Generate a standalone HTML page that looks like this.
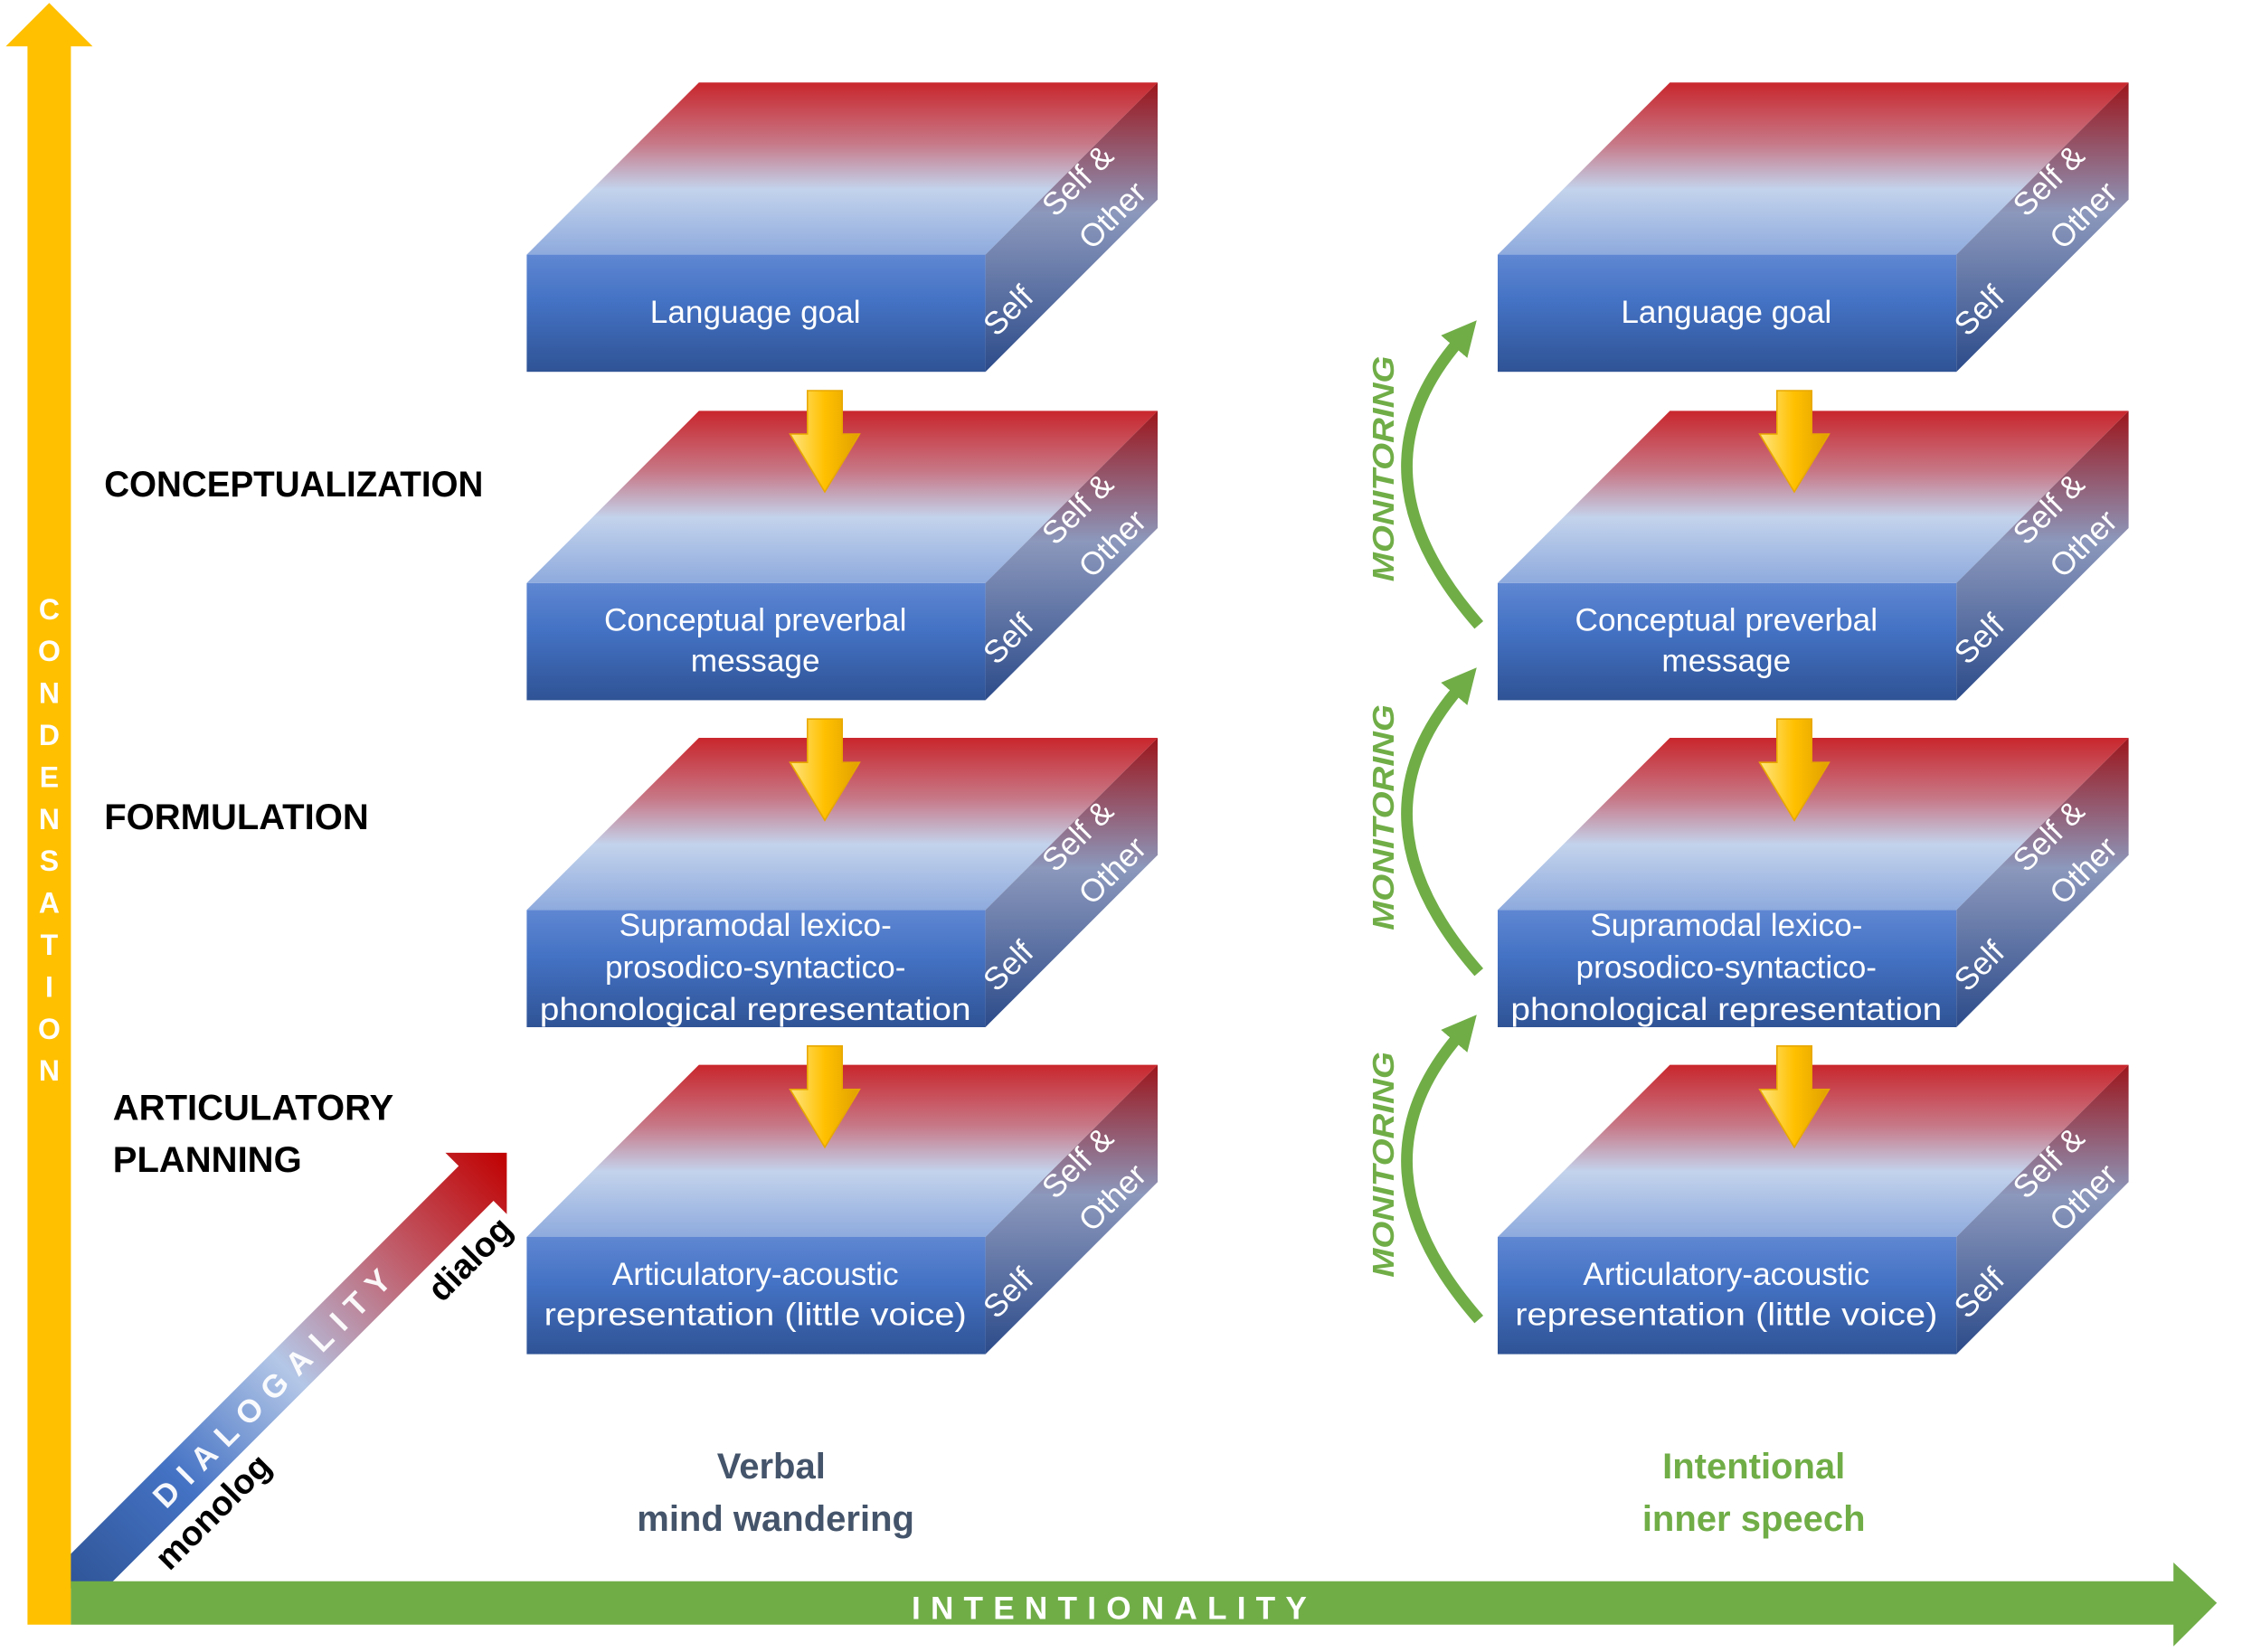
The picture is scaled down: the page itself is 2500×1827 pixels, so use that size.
<!DOCTYPE html>
<html><head><meta charset="utf-8"><style>
html,body{margin:0;padding:0;background:#fff;}
svg{display:block;}
text{font-family:"Liberation Sans",sans-serif;}
</style></head><body>
<svg width="2500" height="1827" viewBox="0 0 1562.5 1141.875" xmlns="http://www.w3.org/2000/svg">
<defs>
<linearGradient id="top" x1="0" y1="0" x2="0" y2="1">
<stop offset="0" stop-color="#c9262c"/><stop offset="0.35" stop-color="#c77786"/><stop offset="0.62" stop-color="#c3d3ec"/><stop offset="1" stop-color="#8eaadd"/>
</linearGradient>
<linearGradient id="front" x1="0" y1="0" x2="0" y2="1">
<stop offset="0" stop-color="#5f87d2"/><stop offset="0.4" stop-color="#4472c4"/><stop offset="1" stop-color="#2f5395"/>
</linearGradient>
<linearGradient id="side" x1="0" y1="0" x2="0" y2="1">
<stop offset="0" stop-color="#9c151b"/><stop offset="0.45" stop-color="#8c98bc"/><stop offset="1" stop-color="#2c4b8a"/>
</linearGradient>
<linearGradient id="dia" x1="0" y1="0" x2="1" y2="0">
<stop offset="0" stop-color="#2f5597"/><stop offset="0.25" stop-color="#4472c4"/><stop offset="0.5" stop-color="#b4c7e7"/><stop offset="0.75" stop-color="#c0606e"/><stop offset="1" stop-color="#c00000"/>
</linearGradient>
<linearGradient id="yarr" x1="0" y1="0" x2="1" y2="0">
<stop offset="0" stop-color="#ffe680"/><stop offset="0.5" stop-color="#ffc000"/><stop offset="1" stop-color="#e0a000"/>
</linearGradient>
<marker id="gh" viewBox="0 0 10 10" refX="2" refY="5" markerWidth="3" markerHeight="3" orient="auto" markerUnits="strokeWidth">
<path d="M0,0 L10,5 L0,10 z" fill="#70ad47"/>
</marker>
<g id="yd"><polygon points="-12,0 12,0 12,30 24,30 0,70 -24,30 -12,30" fill="url(#yarr)" stroke="#e8a800" stroke-width="1"/></g>
<g id="blk">
<polygon points="364,176 483,57 800,57 681,176" fill="url(#top)"/>
<polygon points="681,176 800,57 800,138 681,257" fill="url(#side)"/>
<rect x="364" y="176" width="317" height="81" fill="url(#front)"/>
</g>
</defs>

<use href="#blk"/><use href="#blk" y="227"/><use href="#blk" y="453"/><use href="#blk" y="679"/>
<use href="#blk" x="671"/><use href="#blk" x="671" y="227"/><use href="#blk" x="671" y="453"/><use href="#blk" x="671" y="679"/>

<g fill="#fff" font-size="22">
<g id="sl">
<text transform="translate(702,220) rotate(-45)" text-anchor="middle">Self</text>
<text transform="translate(750,130) rotate(-45)" text-anchor="middle">Self &amp;</text>
<text transform="translate(774,154) rotate(-45)" text-anchor="middle">Other</text>
</g>
<use href="#sl" y="227"/><use href="#sl" y="453"/><use href="#sl" y="679"/>
<use href="#sl" x="671"/><use href="#sl" x="671" y="227"/><use href="#sl" x="671" y="453"/><use href="#sl" x="671" y="679"/>
</g>

<g fill="#fff" font-size="22" text-anchor="middle">
<g id="fl">
<text x="522" y="223">Language goal</text>
<text x="522" y="436">Conceptual preverbal</text>
<text x="522" y="464">message</text>
<text x="522" y="647">Supramodal lexico-</text>
<text x="522" y="676">prosodico-syntactico-</text>
<text x="522" y="705" textLength="298" lengthAdjust="spacingAndGlyphs">phonological representation</text>
<text x="522" y="888">Articulatory-acoustic</text>
<text x="522" y="916" textLength="292" lengthAdjust="spacingAndGlyphs">representation (little voice)</text>
</g>
<use href="#fl" x="671"/>
</g>

<use href="#yd" x="570" y="270"/><use href="#yd" x="570" y="497"/><use href="#yd" x="570" y="723"/>
<use href="#yd" x="1240" y="270"/><use href="#yd" x="1240" y="497"/><use href="#yd" x="1240" y="723"/>

<g fill="none" stroke="#70ad47" stroke-width="8" stroke-linecap="butt">
<path d="M1022,432 Q930,327 1008,236" marker-end="url(#gh)"/>
<path d="M1022,672 Q930,567 1008,476" marker-end="url(#gh)"/>
<path d="M1022,912 Q930,807 1008,716" marker-end="url(#gh)"/>
</g>
<g fill="#70ad47" font-size="21" font-weight="bold" font-style="italic" text-anchor="middle">
<text transform="translate(963,324) rotate(-90)" textLength="156" lengthAdjust="spacingAndGlyphs">MONITORING</text>
<text transform="translate(963,565) rotate(-90)" textLength="156" lengthAdjust="spacingAndGlyphs">MONITORING</text>
<text transform="translate(963,805) rotate(-90)" textLength="156" lengthAdjust="spacingAndGlyphs">MONITORING</text>
</g>

<g transform="translate(49,1098) rotate(-45)">
<polygon points="0,-17 396,-17 396,-30 426,0 396,30 396,17 0,17" fill="url(#dia)"/>
<text x="196" y="8" fill="#fff" font-size="22" font-weight="bold" text-anchor="middle" textLength="222" lengthAdjust="spacing" opacity="0.95">DIALOGALITY</text>
<text x="107" y="40" fill="#000" font-size="24" font-weight="bold" text-anchor="middle">monolog</text>
<text x="356" y="42" fill="#000" font-size="24" font-weight="bold" text-anchor="middle">dialog</text>
</g>

<polygon points="34,2 64,32 49,32 49,1123 19,1123 19,32 4,32" fill="#ffc000"/>
<g fill="#fff" font-size="20" font-weight="bold" text-anchor="middle">
<text x="34" y="428">C</text><text x="34" y="457">O</text><text x="34" y="486">N</text><text x="34" y="515">D</text><text x="34" y="544">E</text><text x="34" y="573">N</text><text x="34" y="602">S</text><text x="34" y="631">A</text><text x="34" y="660">T</text><text x="34" y="689">I</text><text x="34" y="718">O</text><text x="34" y="747">N</text>
</g>

<polygon points="49,1093 1502,1093 1502,1080 1532,1108 1502,1138 1502,1123 49,1123" fill="#70ad47"/>
<text x="770" y="1119" fill="#fff" font-size="22" font-weight="bold" text-anchor="middle" letter-spacing="7">INTENTIONALITY</text>

<g fill="#000" font-size="25" font-weight="bold">
<text x="72" y="343" textLength="262" lengthAdjust="spacingAndGlyphs">CONCEPTUALIZATION</text>
<text x="72" y="573">FORMULATION</text>
<text x="78" y="774">ARTICULATORY</text>
<text x="78" y="810">PLANNING</text>
</g>

<g font-size="25" font-weight="bold" text-anchor="middle">
<text x="533" y="1022" fill="#44546a">Verbal</text>
<text x="536" y="1058" fill="#44546a">mind wandering</text>
<text x="1212" y="1022" fill="#70ad47">Intentional</text>
<text x="1212" y="1058" fill="#70ad47">inner speech</text>
</g>
</svg>
</body></html>
